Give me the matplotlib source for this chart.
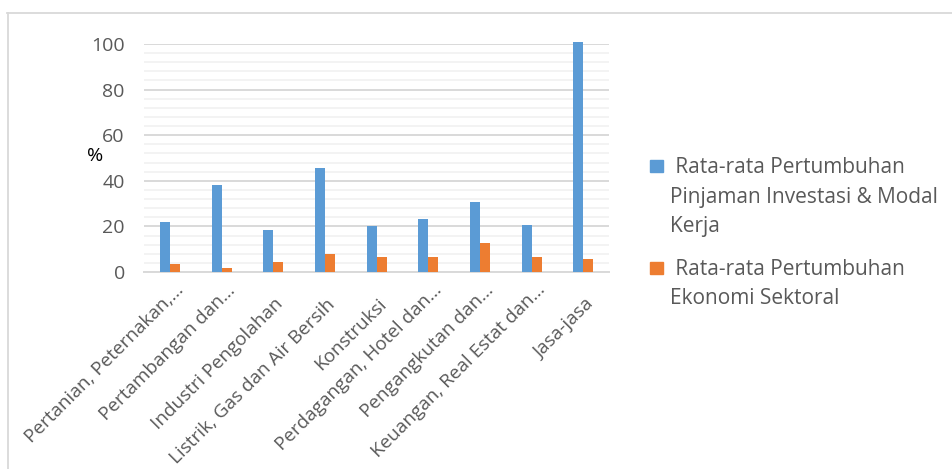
import matplotlib
matplotlib.use("Agg")
import matplotlib.pyplot as plt
import matplotlib.transforms as mtransforms
import numpy as np
from matplotlib.lines import Line2D
from matplotlib.patches import Rectangle

categories = ["Pertanian, Peternakan,…", "Pertambangan dan…", "Industri Pengolahan",
              "Listrik, Gas dan Air Bersih", "Konstruksi", "Perdagangan, Hotel dan…",
              "Pengangkutan dan…", "Keuangan, Real Estat dan…", "Jasa-jasa"]
pinjaman = [22.0, 38.1, 18.4, 45.5, 20.1, 23.4, 30.5, 20.6, 100.8]
ekonomi = [3.4, 1.9, 4.4, 7.9, 6.7, 6.6, 12.7, 6.6, 5.7]
series_names = [" Rata-rata Pertumbuhan\nPinjaman Investasi & Modal\nKerja",
                " Rata-rata Pertumbuhan\nEkonomi Sektoral"]

plt.rcParams['font.family'] = ['Open Sans', 'DejaVu Sans']
TXT = '#595959'
BLUE = '#5B9BD5'
ORANGE = '#ED7D31'
colors = [BLUE, ORANGE]

W, H = 953, 469
fig = plt.figure(figsize=(W / 100, H / 100), dpi=100)
ax = fig.add_axes([144.2 / W, 1 - 272 / H, 465 / W, 228 / H])

x = np.arange(len(categories))
w = 0.194
ax.bar(x - w/2, pinjaman, w, color=BLUE, zorder=3, clip_on=False)
ax.bar(x + w/2, ekonomi, w, color=ORANGE, zorder=3)

ax.set_xlim(-0.5, len(categories) - 0.5)
ax.set_ylim(0, 100)
ax.set_yticks(np.arange(0, 101, 20))
ax.set_yticks(np.arange(0, 101, 4), minor=True)
ax.grid(axis='y', which='major', color='#D9D9D9', linewidth=1.4, zorder=0)
ax.grid(axis='y', which='minor', color='#F2F2F2', linewidth=1.3, zorder=0)
ax.tick_params(axis='y', which='both', length=0, labelsize=14, labelcolor=TXT, pad=14)
ax.set_xticks(x)
ax.set_xticklabels([])
ax.tick_params(axis='x', length=0)
for s in ['top', 'right', 'left']:
    ax.spines[s].set_visible(False)
ax.spines['bottom'].set_color('#D9D9D9')
ax.spines['bottom'].set_linewidth(1.4)

# category labels, rotated 45 degrees
base = mtransforms.blended_transform_factory(ax.transData, ax.transAxes)
for xi, lab in zip(x, categories):
    if lab.endswith('…'):
        dx, dy = 0.04, -0.09
    else:
        dx, dy = 0.01, -0.23
    off = mtransforms.ScaledTranslation(dx, dy, fig.dpi_scale_trans)
    ax.text(xi, 0, lab, transform=base + off, rotation=45, rotation_mode='anchor',
            ha='right', va='top', fontsize=13.6, color=TXT)

fig.text(95 / W, 1 - 156 / H, '%', fontsize=14, color='black', ha='center', va='center')

# legend drawn manually: square + wrapped lines
leg_square_tops = [160, 262]
leg_first_baselines = [173, 275]
line_gap = 29.5
for name, col, sq_top, bl in zip(series_names, colors, leg_square_tops, leg_first_baselines):
    fig.add_artist(Rectangle((650 / W, 1 - (sq_top + 12) / H), 13 / W, 12 / H,
                             transform=fig.transFigure, color=col))
    for i, line in enumerate(name.split('\n')):
        fig.text(670 / W, 1 - (bl + i * line_gap) / H, line, fontsize=15, color=TXT,
                 ha='left', va='baseline')

# chart border
fig.add_artist(Line2D([7 / W, 952 / W], [1 - 13 / H, 1 - 13 / H], transform=fig.transFigure,
                      color='#D9D9D9', linewidth=1.3))
fig.add_artist(Line2D([8 / W, 8 / W], [0, 1 - 13 / H], transform=fig.transFigure,
                      color='#D9D9D9', linewidth=1.3))

fig.savefig('out.png', dpi=100)
